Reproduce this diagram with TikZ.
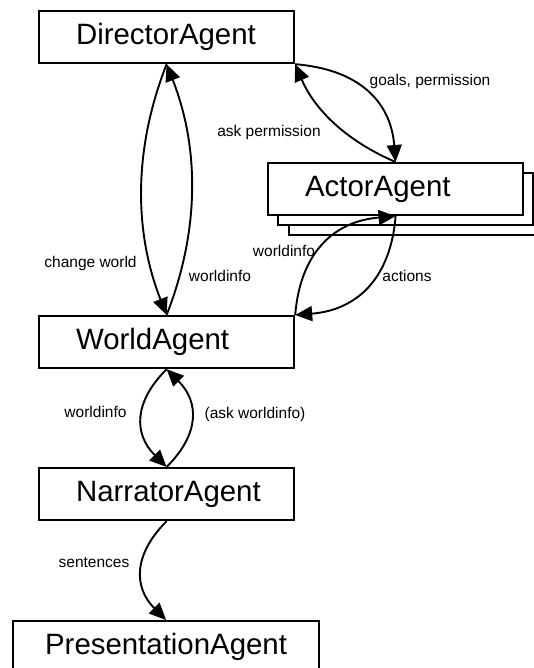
\documentclass[tikz,border=0pt]{standalone}
\usepackage{fontspec}
\setmainfont{Liberation Sans}
\usetikzlibrary{arrows.meta}

\begin{document}
\begin{tikzpicture}[x=1pt, y=-1pt,
  agent/.style={draw, line width=2.2pt, fill=white, anchor=north west,
    minimum height=52pt, text height=21pt, text depth=7pt, inner ysep=0pt,
    align=left, font=\fontsize{29.4}{34}\selectfont},
  stdbox/.style={minimum width=255pt, text width=181pt, inner xsep=37pt},
  flow/.style={line width=1.9pt, -{Triangle[length=17pt,width=15pt]}},
  msg/.style={font=\fontsize{15.5}{18}\selectfont, text height=11pt,
    text depth=3pt, inner sep=0pt}
]
\useasboundingbox (0,0) rectangle (533,668);

% agents
\node[agent, stdbox] (director) at (38,10) {\mbox{DirectorAgent}};
\node[agent, stdbox] (world) at (38,315) {\mbox{WorldAgent}};
\node[agent, stdbox] (narrator) at (38,467) {\mbox{NarratorAgent}};
\node[agent, minimum width=306pt, text width=242pt, inner xsep=32pt]
  (presentation) at (12,620) {\mbox{PresentationAgent}};

% stack of actor agents
\node[agent, minimum width=255pt] (actorC) at (288,182) {};
\node[agent, minimum width=255pt] (actorB) at (277,172) {};
\node[agent, stdbox] (actor) at (267,162) {\mbox{ActorAgent}};

% messages between director and world
\draw[flow] (director.south) .. controls +(-33,84) and +(-33,-84) .. (world.north);
\draw[flow] (world.north) .. controls +(33,-84) and +(33,84) .. (director.south);

% messages between director and actor
\draw[flow] (director.south east) .. controls +(62,5) and +(-5,-62) .. (actor.north);
\draw[flow] (actor.north) .. controls +(-47,-20) and +(20,47) .. (director.south east);

% messages between actor and world
\draw[flow] (actor.south) .. controls +(-5,62) and +(62,-5) .. (world.north east);
\draw[flow] (world.north east) .. controls +(5,-62) and +(-62,5) .. (actor.south);

% messages between world and narrator
\draw[flow] (world.south) .. controls +(-33,33) and +(-33,-33) .. (narrator.north);
\draw[flow] (narrator.north) .. controls +(33,-33) and +(33,33) .. (world.south);

% narrator to presentation
\draw[flow] (narrator.south) .. controls +(-33,33) and +(-33,-33) .. (presentation.north);

% message labels
\node[msg] (lblGoals) at (430,82) {goals, permission};
\node[msg] (lblAsk) at (269,133) {ask permission};
\node[msg] (lblChange) at (90.5,263) {change world};
\node[msg] (lblInfoDir) at (220,277) {worldinfo};
\node[msg] (lblInfoActor) at (284,252) {worldinfo};
\node[msg] (lblActions) at (407,277) {actions};
\node[msg] (lblInfoNarr) at (95.5,413) {worldinfo};
\node[msg] (lblAskInfo) at (255,414) {(ask worldinfo)};
\node[msg] (lblSentences) at (94,563) {sentences};
\end{tikzpicture}
\end{document}
